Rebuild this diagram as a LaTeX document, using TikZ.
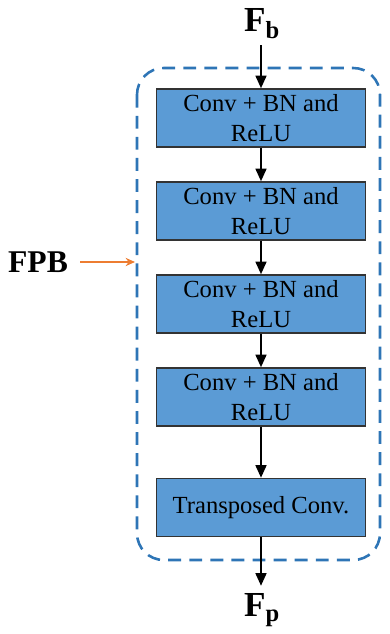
\documentclass[tikz,border=0pt]{standalone}
\usepackage{fontspec}
\setmainfont{Liberation Serif}
\usetikzlibrary{arrows.meta,positioning}
\definecolor{BlockBlue}{HTML}{5B9BD5}
\definecolor{FrameBlue}{HTML}{2E75B6}
\definecolor{PointerOrange}{HTML}{ED7D31}
\tikzset{
  block/.style={draw=black!80,line width=0.9pt,fill=BlockBlue,minimum width=6.27cm,minimum height=1.74cm,
    align=center,inner sep=0pt,font=\fontsize{21}{25}\selectfont},
  flow/.style={-{Triangle[length=11pt,width=9pt]},line width=2.5pt}
}

\begin{document}
\begin{tikzpicture}[x=0.03cm,y=-0.03cm]
\useasboundingbox (0,0) rectangle (390,634);
\draw[FrameBlue,line width=2.2pt,dash pattern=on 11pt off 7pt,rounded corners=0.8cm]
  (137,68) rectangle (380,560);
\node[block] (b1) at (261,118) {Conv + BN and\\ReLU};
\node[block] (b2) at (261,211) {Conv + BN and\\ReLU};
\node[block] (b3) at (261,304) {Conv + BN and\\ReLU};
\node[block] (b4) at (261,397) {Conv + BN and\\ReLU};
\node[block] (b5) at (261,507.5) {Transposed Conv.};
\node[font=\bfseries\fontsize{30}{32}\selectfont] (fb) at (262,24) {F\textsubscript{b}};
\node[font=\bfseries\fontsize{30}{32}\selectfont] (fp) at (262,610) {F\textsubscript{p}};
\node[font=\bfseries\fontsize{27}{30}\selectfont] (fpb) at (38,262) {FPB};
\coordinate (edge) at (135,262);
\coordinate (fpbout) at (80,262);
\coordinate (fbend) at (261,45);
\coordinate (fptip) at (261,586);
\draw[flow] (fbend) -- (b1);
\draw[flow] (b1) -- (b2);
\draw[flow] (b2) -- (b3);
\draw[flow] (b3) -- (b4);
\draw[flow] (b4) -- (b5);
\draw[flow] (b5) -- (fptip);
\draw[-{Stealth[length=8pt,width=7pt]},PointerOrange,line width=1.6pt] (fpbout) -- (edge);
\end{tikzpicture}
\end{document}
